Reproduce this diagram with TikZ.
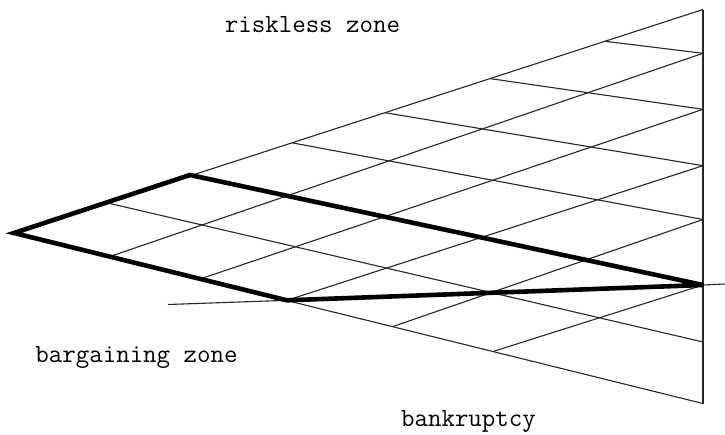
\documentclass[tikz,border=0pt]{standalone}
\usepackage{tikz}

\begin{document}
\begin{tikzpicture}[x=0.5pt, y=-0.5pt,
    gridline/.style={black!85, line width=0.55pt},
    bargain/.style={black, line width=2.3pt, line join=miter, miter limit=4},
    zone/.style={font=\ttfamily\fontsize{13.1}{15}\selectfont, inner sep=0pt, anchor=base}]
  \useasboundingbox (0,0) rectangle (725,435);

  % Lattice points: upper edge, lower edge, right edge
  \coordinate (u0) at (14,233);
  \coordinate (l0) at (14,233);
  \foreach \i/\x/\y in {1/107/202.8, 2/190/175, 3/292/142.8, 4/385/112.7,
                        5/490/78.6, 6/605/41.3, 7/703/9.5}{
    \coordinate (u\i) at (\x,\y);
  }
  \foreach \j/\x/\y in {1/110/256.5, 2/200/279, 3/287/300.3, 4/393/326.5,
                        5/493/351.5, 6/603/378.3, 7/703/403.5}{
    \coordinate (l\j) at (\x,\y);
  }
  \foreach \k/\y in {0/403.5, 1/342, 2/285, 3/219.5, 4/165.7, 5/109.3,
                     6/53.3, 7/9.5}{
    \coordinate (r\k) at (703,\y);
  }

  % Up-going lines
  \foreach \j in {0,...,5}{
    \pgfmathtruncatemacro\k{7-\j}
    \draw[gridline] (l\j) -- (r\k);
  }
  % Down-going lines
  \foreach \i in {0,...,6}{
    \draw[gridline] (u\i) -- (r\i);
  }
  \draw[gridline] (r7) -- (r0);

  % Bargaining region
  \coordinate (west) at (168,304.5);
  \coordinate (east) at (725,284);
  \draw[gridline] (west) -- (l3);
  \draw[gridline] (r2) -- (east);
  \draw[bargain] (u0) -- (u2) -- (r2) -- (l3) -- cycle;

  % Labels
  \node[zone] (riskless) at (312.5,32) {riskless zone};
  \node[zone] (bargaining) at (136.5,362) {bargaining zone};
  \node[zone] (bankruptcy) at (468.5,426) {bankruptcy};
\end{tikzpicture}
\end{document}
